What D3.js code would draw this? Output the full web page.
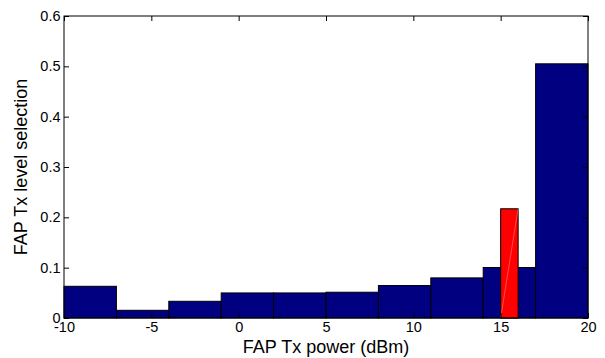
<!DOCTYPE html>
<html>
<head>
<meta charset="utf-8">
<script src="https://cdn.jsdelivr.net/npm/d3@7"></script>
<style>
  body { margin: 0; background: #fff; }
  text { font-family: Arial, "Liberation Sans", sans-serif; }
</style>
</head>
<body>
<div id="chart"></div>
<script>
// histogram bins (dBm) and their selection frequency
const binEdges = [-10, -7, -4, -1, 2, 5, 8, 11, 14, 17, 20];
const binValues = [0.063, 0.0153, 0.0332, 0.0498, 0.0498, 0.0512, 0.0645, 0.0797, 0.1003, 0.505];
// highlighted level
const highlight = { x0: 15, x1: 16, value: 0.217 };
const xTicks = [-10, -5, 0, 5, 10, 15, 20];
const yTicks = [0, 0.1, 0.2, 0.3, 0.4, 0.5, 0.6];

const width = 605, height = 358;
const margin = { top: 16, right: 17, bottom: 40, left: 64 };
const w = width - margin.left - margin.right;
const h = height - margin.top - margin.bottom;

const svg = d3.select('#chart').append('svg')
  .attr('width', width)
  .attr('height', height);

const g = svg.append('g')
  .attr('transform', `translate(${margin.left},${margin.top})`);

const x = d3.scaleLinear().domain([-10, 20]).range([0, w]);
const y = d3.scaleLinear().domain([0, 0.6]).range([h, 0]);

const bins = binValues.map((v, i) => ({ x0: binEdges[i], x1: binEdges[i + 1], value: v }));

g.selectAll('rect.bin')
  .data(bins)
  .enter()
  .append('rect')
  .attr('class', 'bin')
  .attr('x', d => x(d.x0))
  .attr('y', d => y(d.value))
  .attr('width', d => x(d.x1) - x(d.x0))
  .attr('height', d => h - y(d.value))
  .attr('fill', '#000080')
  .attr('stroke', '#000')
  .attr('stroke-width', 1);

g.append('rect')
  .attr('x', x(highlight.x0))
  .attr('y', y(highlight.value))
  .attr('width', x(highlight.x1) - x(highlight.x0))
  .attr('height', h - y(highlight.value))
  .attr('fill', '#ff0000')
  .attr('stroke', '#000')
  .attr('stroke-width', 1);

// faint diagonal left by the patch rendering
g.append('line')
  .attr('x1', x(highlight.x0))
  .attr('y1', y(0))
  .attr('x2', x(highlight.x1))
  .attr('y2', y(highlight.value))
  .attr('stroke', '#ff8080')
  .attr('stroke-width', 0.6);

// axes, MATLAB-style ticks pointing inward
const tickLen = 5;
const styleAxis = sel => {
  sel.select('.domain').remove();
  sel.selectAll('.tick line').attr('stroke', '#000');
  sel.selectAll('text').attr('fill', '#000').style('font-size', '14.5px');
};

g.append('g')
  .attr('transform', `translate(0,${h})`)
  .call(d3.axisBottom(x).tickValues(xTicks).tickSizeInner(-tickLen).tickSizeOuter(0).tickPadding(4).tickFormat(d => String(d)))
  .call(styleAxis);

g.append('g')
  .call(d3.axisTop(x).tickValues(xTicks).tickSizeInner(-tickLen).tickSizeOuter(0).tickFormat(''))
  .call(styleAxis);

g.append('g')
  .call(d3.axisLeft(y).tickValues(yTicks).tickSizeInner(-tickLen).tickSizeOuter(0).tickPadding(3.5).tickFormat(d => d === 0 ? '0' : d3.format('.1f')(d)))
  .call(styleAxis);

g.append('g')
  .attr('transform', `translate(${w},0)`)
  .call(d3.axisRight(y).tickValues(yTicks).tickSizeInner(-tickLen).tickSizeOuter(0).tickFormat(''))
  .call(styleAxis);

g.append('rect')
  .attr('width', w)
  .attr('height', h)
  .attr('fill', 'none')
  .attr('stroke', '#000')
  .attr('stroke-width', 1);

svg.append('text')
  .attr('x', margin.left + w / 2)
  .attr('y', 353)
  .attr('text-anchor', 'middle')
  .style('font-size', '18px')
  .text('FAP Tx power (dBm)');

svg.append('text')
  .attr('transform', `translate(27,${margin.top + h / 2}) rotate(-90)`)
  .attr('text-anchor', 'middle')
  .style('font-size', '18px')
  .text('FAP Tx level selection');
</script>
</body>
</html>
